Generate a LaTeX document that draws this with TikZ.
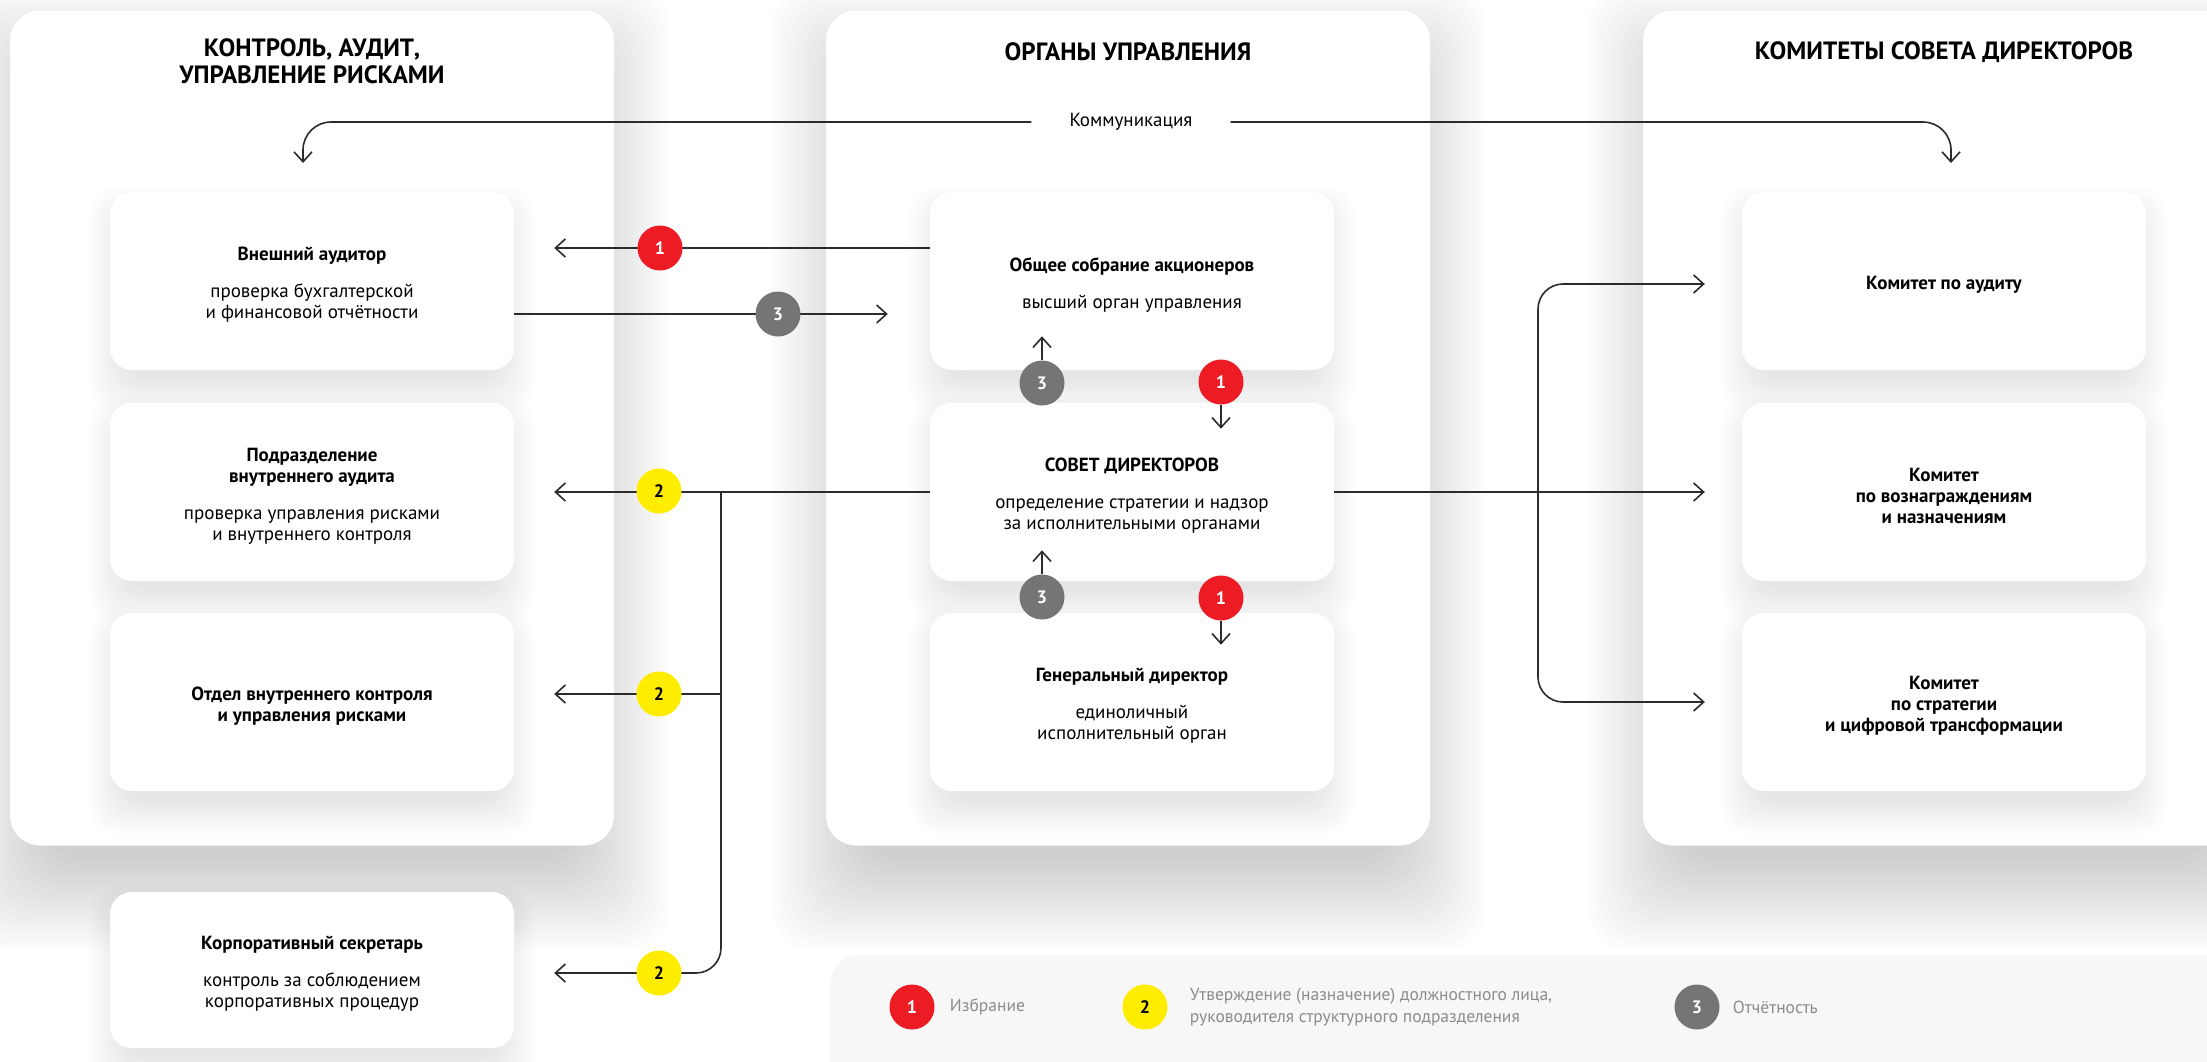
\documentclass[tikz,border=0pt]{standalone}
\usepackage{fontspec}
\setmainfont{PT Sans}
\usetikzlibrary{arrows.meta,positioning}
\definecolor{badgered}{HTML}{ED1C24}
\definecolor{badgeyellow}{HTML}{FFED00}
\definecolor{badgegray}{HTML}{757575}
\definecolor{legendbg}{HTML}{F7F7F7}
\definecolor{legendtext}{HTML}{8C8C8C}
\definecolor{linecol}{HTML}{2B2B2B}
\newcommand\topgap{\rule{0pt}{21pt}}

\begin{document}
\begin{tikzpicture}[x=1pt,y=-1pt,
  panel/.style={fill=white, rounded corners=30pt, minimum width=604pt, minimum height=835pt},
  card/.style={fill=white, rounded corners=22pt, minimum width=404pt, minimum height=178pt, align=center,
    font=\fontsize{19}{21}\selectfont},
  heading/.style={font=\fontsize{25}{27}\selectfont\bfseries, align=center},
  badge/.style={circle, fill=#1, minimum size=45pt, inner sep=0pt, font=\fontsize{18}{18}\selectfont\bfseries, text=white},
  link/.style={draw=linecol, line width=1.6pt, -{Straight Barb[length=10pt,width=18pt,line width=1.6pt]}},
  legendtxt/.style={font=\fontsize{17.5}{22}\selectfont, text=legendtext, align=left, inner sep=0pt}
]
\fill[white] (0,0) rectangle (2207,1061);
\useasboundingbox (0,0) rectangle (2207,1061);

\foreach \px in {10,827,1643}
  \foreach \d in {0,6,...,90}
    \fill[black, opacity=0.013, rounded corners=40pt] ({\px+35-\d},{75-\d}) rectangle ({\px+569+\d},{860+\d});

\node[panel] (pctrl) at (312,428) {};
\node[panel] (pgov) at (1128,428) {};
\node[panel] (pcom) at (1945,428) {};

\foreach \cx/\cy/\h in {312/281/178, 312/492/178, 312/702/178, 312/970/156, 1132/281/178, 1132/492/178, 1132/702/178, 1944/281/178, 1944/492/178, 1944/702/178}
  \foreach \d in {0,3,...,36}
    \fill[black, opacity=0.006, rounded corners=28pt] ({\cx-187-\d},{\cy-\h/2+30-\d}) rectangle ({\cx+187+\d},{\cy+\h/2+8+\d});

\node[heading] (tctrl) at (312,61) {КОНТРОЛЬ, АУДИТ,\\УПРАВЛЕНИЕ РИСКАМИ};
\node[heading] (tgov) at (1128,52) {ОРГАНЫ УПРАВЛЕНИЯ};
\node[heading] (tcom) at (1944,52) {КОМИТЕТЫ СОВЕТА ДИРЕКТОРОВ};

\node[card] (audext) at (312,281) {\topgap\textbf{Внешний аудитор}\\[16pt]проверка бухгалтерской\\и финансовой отчётности};
\node[card] (audint) at (312,492) {\topgap\textbf{Подразделение}\\\textbf{внутреннего аудита}\\[16pt]проверка управления рисками\\и внутреннего контроля};
\node[card] (riskctl) at (312,702) {\topgap\textbf{Отдел внутреннего контроля}\\\textbf{и управления рисками}};
\node[card, minimum height=156pt] (secr) at (312,970) {\topgap\textbf{Корпоративный секретарь}\\[16pt]контроль за соблюдением\\корпоративных процедур};

\node[card] (gms) at (1132,281) {\topgap\textbf{Общее собрание акционеров}\\[16pt]высший орган управления};
\node[card] (board) at (1132,492) {\topgap\textbf{СОВЕТ ДИРЕКТОРОВ}\\[16pt]определение стратегии и надзор\\за исполнительными органами};
\node[card] (ceo) at (1132,702) {\topgap\textbf{Генеральный директор}\\[16pt]единоличный\\исполнительный орган};

\node[card] (cmaud) at (1944,281) {\topgap\textbf{Комитет по аудиту}};
\node[card] (cmrem) at (1944,492) {\topgap\textbf{Комитет}\\\textbf{по вознаграждениям}\\\textbf{и назначениям}};
\node[card] (cmstr) at (1944,702) {\topgap\textbf{Комитет}\\\textbf{по стратегии}\\\textbf{и цифровой трансформации}};

\node[font=\fontsize{19}{22}\selectfont, inner xsep=38pt] (comm) at (1131,122) {Коммуникация};
\coordinate (commL) at (303,163);
\coordinate (commR) at (1951,163);
\draw[link, rounded corners=28pt] (comm.west) -| (commL);
\draw[link, rounded corners=28pt] (comm.east) -| (commR);

\draw[link, shorten >=40pt] ([yshift=33pt]gms.west) -- ([yshift=33pt]audext.east);
\draw[link, shorten >=42pt] ([yshift=-33pt]audext.east) -- ([yshift=-33pt]gms.west);

\coordinate (jl) at (721,492);
\draw[link, shorten >=40pt] (board.west) -- (audint.east);
\draw[link, shorten >=40pt] ([yshift=8pt]riskctl.east -| jl) -- ([yshift=8pt]riskctl.east);
\draw[link, rounded corners=25pt, shorten >=40pt] (jl) |- ([yshift=-3pt]secr.east);

\coordinate (jr) at (1538,492);
\draw[link, shorten >=37pt] (board.east) -- (cmrem.west);
\draw[link, rounded corners=25pt, shorten >=37pt] (jr) |- ([yshift=-3pt]cmaud.west);
\draw[link, rounded corners=25pt, shorten >=37pt] (jr) |- (cmstr.west);

\node[badge=badgered] (e1) at (660,248) {1};
\node[badge=badgegray] (r1) at (778,314) {3};
\node[badge=badgeyellow, text=black] (n1) at (659,491) {2};
\node[badge=badgeyellow, text=black] (n2) at (659,694) {2};
\node[badge=badgeyellow, text=black] (n3) at (659,973) {2};
\node[badge=badgegray] (r2) at (1042,383) {3};
\node[badge=badgered] (e2) at (1221,382) {1};
\node[badge=badgegray] (r3) at (1042,597) {3};
\node[badge=badgered] (e3) at (1221,598) {1};
\draw[link] (r2.north) -- ++(0,-24);
\draw[link] (e2.south) -- ++(0,24);
\draw[link] (r3.north) -- ++(0,-24);
\draw[link] (e3.south) -- ++(0,24);

\fill[legendbg, rounded corners=30pt] (830,955) rectangle (2260,1110);
\node[badge=badgered] (lg1) at (912,1007) {1};
\node[legendtxt, right=15pt of lg1] (lt1) {Избрание};
\node[badge=badgeyellow, text=black] (lg2) at (1145,1007) {2};
\node[legendtxt, right=22pt of lg2] (lt2) {Утверждение (назначение) должностного лица,\\руководителя структурного подразделения};
\node[badge=badgegray] (lg3) at (1697,1007) {3};
\node[legendtxt, right=13pt of lg3] (lt3) {Отчётность};
\end{tikzpicture}
\end{document}
